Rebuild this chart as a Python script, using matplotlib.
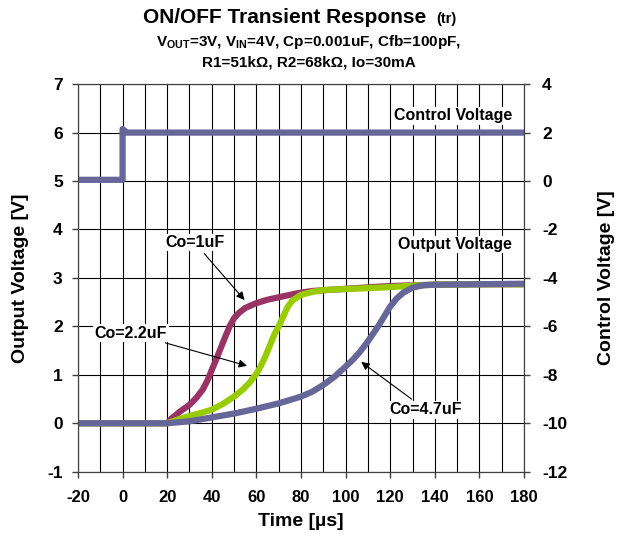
import matplotlib.pyplot as plt
from matplotlib.ticker import MultipleLocator

plt.rcParams['font.family'] = ['Liberation Sans', 'DejaVu Sans']
plt.rcParams['font.weight'] = 'bold'
plt.rcParams['axes.unicode_minus'] = False
plt.rcParams['mathtext.fontset'] = 'custom'
plt.rcParams['mathtext.rm'] = 'Liberation Sans:bold'
plt.rcParams['mathtext.bf'] = 'Liberation Sans:bold'

# Output voltage traces [V] vs time [us]
t_1uF = [-20, 0, 20, 22, 26, 30, 33, 36, 38, 40, 42, 44, 46, 48, 50, 52, 55, 60, 65, 70, 78, 85, 95, 105, 115, 125, 140, 160, 180]
v_1uF = [0, 0, 0, 0.1, 0.25, 0.38, 0.52, 0.7, 0.88, 1.1, 1.32, 1.55, 1.78, 2.0, 2.17, 2.27, 2.38, 2.48, 2.55, 2.6, 2.68, 2.73, 2.76, 2.79, 2.82, 2.84, 2.86, 2.87, 2.87]

t_22uF = [-20, 0, 20, 25, 30, 35, 40, 45, 50, 54, 57, 60, 62, 64, 66, 68, 70, 72, 74, 76, 80, 85, 90, 100, 110, 120, 130, 140, 160, 180]
v_22uF = [0, 0, 0, 0.08, 0.15, 0.21, 0.28, 0.4, 0.55, 0.7, 0.84, 1.02, 1.18, 1.38, 1.6, 1.83, 2.0, 2.2, 2.4, 2.53, 2.65, 2.71, 2.75, 2.77, 2.79, 2.81, 2.84, 2.86, 2.87, 2.87]

t_47uF = [-20, 0, 20, 30, 40, 50, 60, 70, 80, 85, 90, 95, 100, 103, 106, 110, 115, 120, 123, 126, 130, 135, 140, 160, 180]
v_47uF = [0, 0, 0, 0.04, 0.12, 0.2, 0.3, 0.41, 0.55, 0.65, 0.79, 0.96, 1.17, 1.3, 1.45, 1.69, 2.03, 2.41, 2.58, 2.7, 2.8, 2.85, 2.86, 2.87, 2.88]

# Control voltage [V] (right axis)
t_ctrl = [-20, 0, 0, 0.5, 2, 180]
v_ctrl = [0.05, 0.05, 2.15, 2.1, 2.0, 2.0]

fig = plt.figure(figsize=(6.17, 5.36), dpi=100)
ax = fig.add_axes([0.1264, 0.12, 0.7229, 0.723])
ax2 = ax.twinx()

ax.plot(t_1uF, v_1uF, color='#993366', lw=4.5, zorder=3)
ax.plot(t_22uF, v_22uF, color='#99CC00', lw=4.5, zorder=4)
ax.plot(t_47uF, v_47uF, color='#666699', lw=4.5, zorder=5)
ax2.plot(t_ctrl, v_ctrl, color='#666699', lw=4.5)

ax.set_xlim(-20, 180)
ax.set_ylim(-1, 7)
ax2.set_ylim(-12, 4)
ax.xaxis.set_major_locator(MultipleLocator(20))
ax.xaxis.set_minor_locator(MultipleLocator(10))
ax.yaxis.set_major_locator(MultipleLocator(1))
ax2.yaxis.set_major_locator(MultipleLocator(2))
ax.grid(True, which='both', axis='x', color='black', lw=0.8)
ax.grid(True, which='major', axis='y', color='black', lw=0.8)
ax.set_axisbelow(True)

for a in (ax, ax2):
    a.tick_params(labelsize=12.5, length=4, width=1, color='#404040', direction='out')
    for s in a.spines.values():
        s.set_color('#404040')
ax.tick_params(axis='y', pad=7)
ax.tick_params(axis='x', pad=9, labelsize=12)
ax2.tick_params(axis='y', pad=9)
ax.tick_params(which='minor', length=0)

ax.set_xlabel('Time [µs]', fontsize=14, fontweight='bold', labelpad=6)
ax.set_ylabel('Output Voltage [V]', fontsize=14, fontweight='bold', labelpad=13)
ax2.set_ylabel('Control Voltage [V]', fontsize=14, fontweight='bold', rotation=90, labelpad=22)

box = dict(facecolor='white', edgecolor='none', pad=1)
ax.text(148, 6.35, 'Control Voltage', fontsize=11.5, ha='center', va='center', bbox=box)
ax.text(149, 3.69, 'Output Voltage', fontsize=11.5, ha='center', va='center', bbox=box)
arrow = dict(arrowstyle='-|>', color='black', lw=0.8, mutation_scale=12)
ax.annotate('Co=1uF', xy=(55.5, 2.5), xytext=(32.3, 3.73), fontsize=11.5, ha='center', va='center',
            bbox=box, arrowprops=arrow)
ax.annotate('Co=2.2uF', xy=(57, 1.17), xytext=(3.7, 1.86), fontsize=11.5, ha='center', va='center',
            bbox=box, arrowprops=arrow)
ax.annotate('Co=4.7uF', xy=(106, 1.3), xytext=(136, 0.28), fontsize=11.5, ha='center', va='center',
            bbox=box, arrowprops=arrow)

fig.text(143 / 617, 0.968, 'ON/OFF Transient Response', fontsize=15, ha='left', va='center')
fig.text(436 / 617, 0.965, '(tr)', fontsize=10.5, ha='left', va='center')
fig.text(0.5, 0.922, 'V$_\\mathbf{OUT}$=3V, V$_\\mathbf{IN}$=4V, Cp=0.001uF, Cfb=100pF,',
         fontsize=11, ha='center', va='center')
fig.text(0.5, 0.883, 'R1=51kΩ, R2=68kΩ, Io=30mA', fontsize=11, ha='center', va='center')

fig.savefig('out.png', dpi=100)
